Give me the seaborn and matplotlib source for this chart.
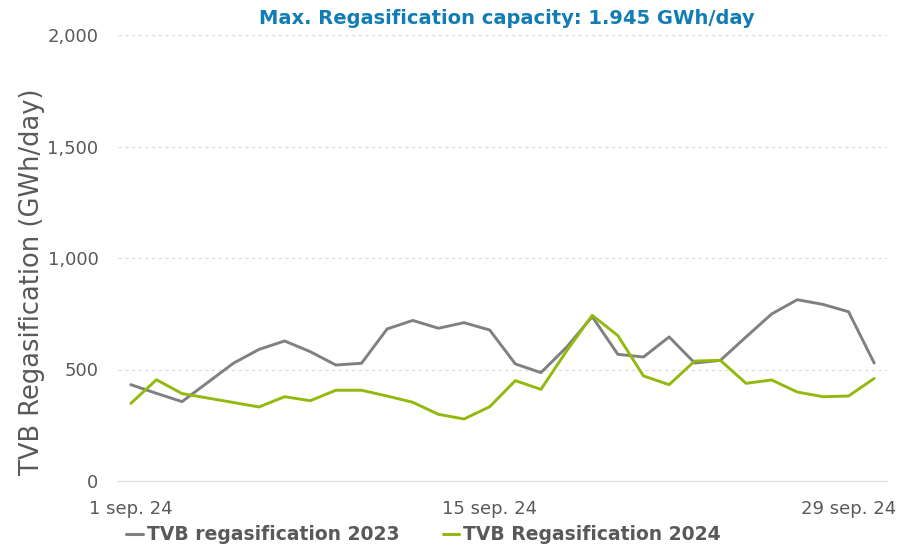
import pandas as pd
import matplotlib.pyplot as plt
import seaborn as sns
from matplotlib.lines import Line2D

# Data: daily TVB regasification, September (GWh/day)
days = list(range(1, 31))
regas_2023 = [432, 393, 356, 442, 528, 590, 628, 580, 520, 528,
              682, 720, 685, 710, 677, 525, 486, 600, 737, 568,
              556, 646, 529, 541, 646, 749, 813, 792, 759, 529]
regas_2024 = [348, 454, 392, 372, 352, 332, 378, 360, 407, 407,
              381, 353, 299, 278, 333, 450, 411, 583, 743, 652,
              471, 432, 538, 541, 438, 453, 399, 378, 381, 460]
series_names = ['TVB regasification 2023', 'TVB Regasification 2024']
tick_days = [1, 15, 29]
tick_labels = ['1 sep. 24', '15 sep. 24', '29 sep. 24']
title_text = 'Max. Regasification capacity: 1.945 GWh/day'

colors = {series_names[0]: '#808080', series_names[1]: '#93b90f'}
text_grey = '#595959'

df = pd.DataFrame({
    'day': days * 2,
    'value': regas_2023 + regas_2024,
    'series': [series_names[0]] * len(days) + [series_names[1]] * len(days),
})

sns.set_style('white')
plt.rcParams['font.family'] = ['DejaVu Sans']

fig = plt.figure(figsize=(9.01, 5.47), dpi=100)
ax = fig.add_axes([118 / 901, 1 - 481 / 547, (887 - 118) / 901, (481 - 35) / 547])

sns.lineplot(data=df, x='day', y='value', hue='series', palette=colors,
             linewidth=2.1, ax=ax, legend=False)

ax.set_xlim(0.5, 30.5)
ax.set_ylim(0, 2000)
ax.set_yticks([0, 500, 1000, 1500, 2000])
ax.set_yticklabels(['0', '500', '1,000', '1,500', '2,000'])
ax.set_xticks(tick_days)
ax.set_xticklabels(tick_labels)
ax.set_xticks([d - 0.5 for d in tick_days], minor=True)
ax.tick_params(axis='x', which='major', length=0, pad=14, labelsize=13, colors=text_grey)
ax.tick_params(axis='x', which='minor', length=5, width=0.8, color='#d9d9d9', direction='out')
ax.tick_params(axis='y', length=0, pad=14, labelsize=13, colors=text_grey)

ax.yaxis.grid(True, color='#d9d9d9', linestyle=(0, (3, 3)), linewidth=0.8)
ax.xaxis.grid(False)
for side in ['top', 'right', 'left']:
    ax.spines[side].set_visible(False)
ax.spines['bottom'].set_color('#d9d9d9')
ax.spines['bottom'].set_linewidth(0.8)
ax.set_axisbelow(True)

ax.set_xlabel('')
ax.set_ylabel('TVB Regasification (GWh/day)', fontsize=18.5, color=text_grey)
ax.yaxis.set_label_coords(-0.095, 0.446)

fig.text(0.563, 1 - 18 / 547, title_text, ha='center', va='center',
         fontsize=14, fontweight='bold', color='#127db4')

handles = [Line2D([0], [0], color=colors[s], linewidth=2.2) for s in series_names]
leg = fig.legend(handles, series_names, loc='center', bbox_to_anchor=(0.47, 1 - 535 / 547),
                 ncol=2, frameon=False, handlelength=0.9, handletextpad=0.2,
                 columnspacing=2.3, prop={'size': 13.5, 'weight': 'bold'})
for t in leg.get_texts():
    t.set_color(text_grey)

fig.savefig('out.png', dpi=100)
